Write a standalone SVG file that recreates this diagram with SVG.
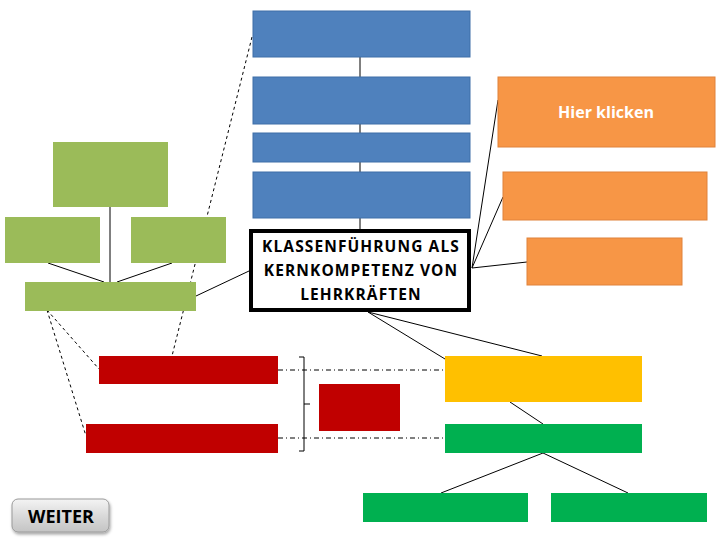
<svg xmlns="http://www.w3.org/2000/svg" width="720" height="540" viewBox="0 0 720 540">
<defs>
<style>
.blue{fill:#4F81BD;stroke:#3F6FA8;stroke-width:1}
.orange{fill:#F79646;stroke:#E0823A;stroke-width:1}
.lgreen{fill:#9BBB59}
.red{fill:#C00000}
.yellow{fill:#FFC000}
.green{fill:#00B050}
.ln{stroke:#000;stroke-width:1;fill:none}
.dash{stroke:#000;stroke-width:1;fill:none;stroke-dasharray:3 3}
.dashdot{stroke:#000;stroke-width:1;fill:none;stroke-dasharray:5 3 1 3}
.t{font-family:"Open Sans","DejaVu Sans",sans-serif;font-weight:bold;text-anchor:middle}
</style>
<linearGradient id="btn" x1="0" y1="0" x2="0" y2="1">
<stop offset="0" stop-color="#F4F4F4"/>
<stop offset="0.5" stop-color="#DADADA"/>
<stop offset="1" stop-color="#C4C4C4"/>
</linearGradient>
<filter id="sh" x="-20%" y="-20%" width="140%" height="160%">
<feDropShadow dx="1" dy="2" stdDeviation="1.5" flood-color="#000" flood-opacity="0.35"/>
</filter>
</defs>
<rect width="720" height="540" fill="#fff"/>
<g id="connectors">
<line class="ln" x1="360" y1="57" x2="360" y2="231"/>
<line class="dash" x1="252" y1="37" x2="172" y2="356"/>
<line class="ln" x1="110" y1="207" x2="110" y2="282"/>
<line class="ln" x1="48" y1="263" x2="104" y2="282"/>
<line class="ln" x1="172" y1="263" x2="117" y2="282"/>
<line class="ln" x1="196" y1="296" x2="249" y2="271"/>
<line class="dash" x1="47" y1="310" x2="99" y2="369"/>
<line class="dash" x1="47" y1="310" x2="86" y2="436"/>
<line class="ln" x1="472" y1="268" x2="498" y2="100"/>
<line class="ln" x1="472" y1="268" x2="503" y2="197"/>
<line class="ln" x1="472" y1="268" x2="527" y2="262"/>
<line class="ln" x1="368" y1="312" x2="445" y2="359"/>
<line class="ln" x1="368" y1="312" x2="542" y2="356"/>
<line class="ln" x1="510" y1="402" x2="543" y2="424"/>
<line class="ln" x1="543" y1="453" x2="441" y2="493"/>
<line class="ln" x1="543" y1="453" x2="628" y2="493"/>
<line class="dashdot" x1="278" y1="370" x2="445" y2="370"/>
<line class="dashdot" x1="278" y1="438" x2="445" y2="438"/>
<path class="ln" d="M299 357 H304 V451 H299 M304 404 H310"/>
</g>
<g id="blue1"><rect class="blue" x="253" y="11" width="217" height="46"/></g>
<g id="blue2"><rect class="blue" x="253" y="77" width="217" height="47"/></g>
<g id="blue3"><rect class="blue" x="253" y="133" width="217" height="29"/></g>
<g id="blue4"><rect class="blue" x="253" y="172" width="217" height="46"/></g>
<g id="center">
<rect x="251" y="231" width="218" height="79" fill="#fff" stroke="#000" stroke-width="4"/>
<text class="t" font-size="15.5" letter-spacing="1.1" x="361" y="252">KLASSENFÜHRUNG ALS</text>
<text class="t" font-size="15.5" letter-spacing="1.1" x="361" y="276">KERNKOMPETENZ VON</text>
<text class="t" font-size="15.5" letter-spacing="1.1" x="361" y="300">LEHRKRÄFTEN</text>
</g>
<g id="orange1">
<rect class="orange" x="498" y="77" width="217" height="70"/>
<text class="t" font-size="16" x="606" y="118" fill="#fff">Hier klicken</text>
</g>
<g id="orange2"><rect class="orange" x="503" y="172" width="204" height="48"/></g>
<g id="orange3"><rect class="orange" x="527" y="238" width="155" height="47"/></g>
<g id="lg1"><rect class="lgreen" x="53" y="142" width="115" height="65"/></g>
<g id="lg2"><rect class="lgreen" x="5" y="217" width="95" height="46"/></g>
<g id="lg3"><rect class="lgreen" x="131" y="217" width="95" height="46"/></g>
<g id="lg4"><rect class="lgreen" x="25" y="282" width="171" height="29"/></g>
<g id="red1"><rect class="red" x="99" y="356" width="179" height="28"/></g>
<g id="red2"><rect class="red" x="86" y="424" width="192" height="29"/></g>
<g id="red3"><rect class="red" x="319" y="384" width="81" height="47"/></g>
<g id="yellow1"><rect class="yellow" x="445" y="356" width="197" height="46"/></g>
<g id="green1"><rect class="green" x="445" y="424" width="197" height="29"/></g>
<g id="green2"><rect class="green" x="363" y="493" width="165" height="29"/></g>
<g id="green3"><rect class="green" x="551" y="493" width="156" height="29"/></g>
<g id="weiter">
<rect x="12" y="499" width="97" height="33" rx="6" fill="url(#btn)" stroke="#9A9A9A" stroke-width="1" filter="url(#sh)"/>
<text class="t" font-size="18" x="61" y="523" fill="#000">WEITER</text>
</g>
</svg>
